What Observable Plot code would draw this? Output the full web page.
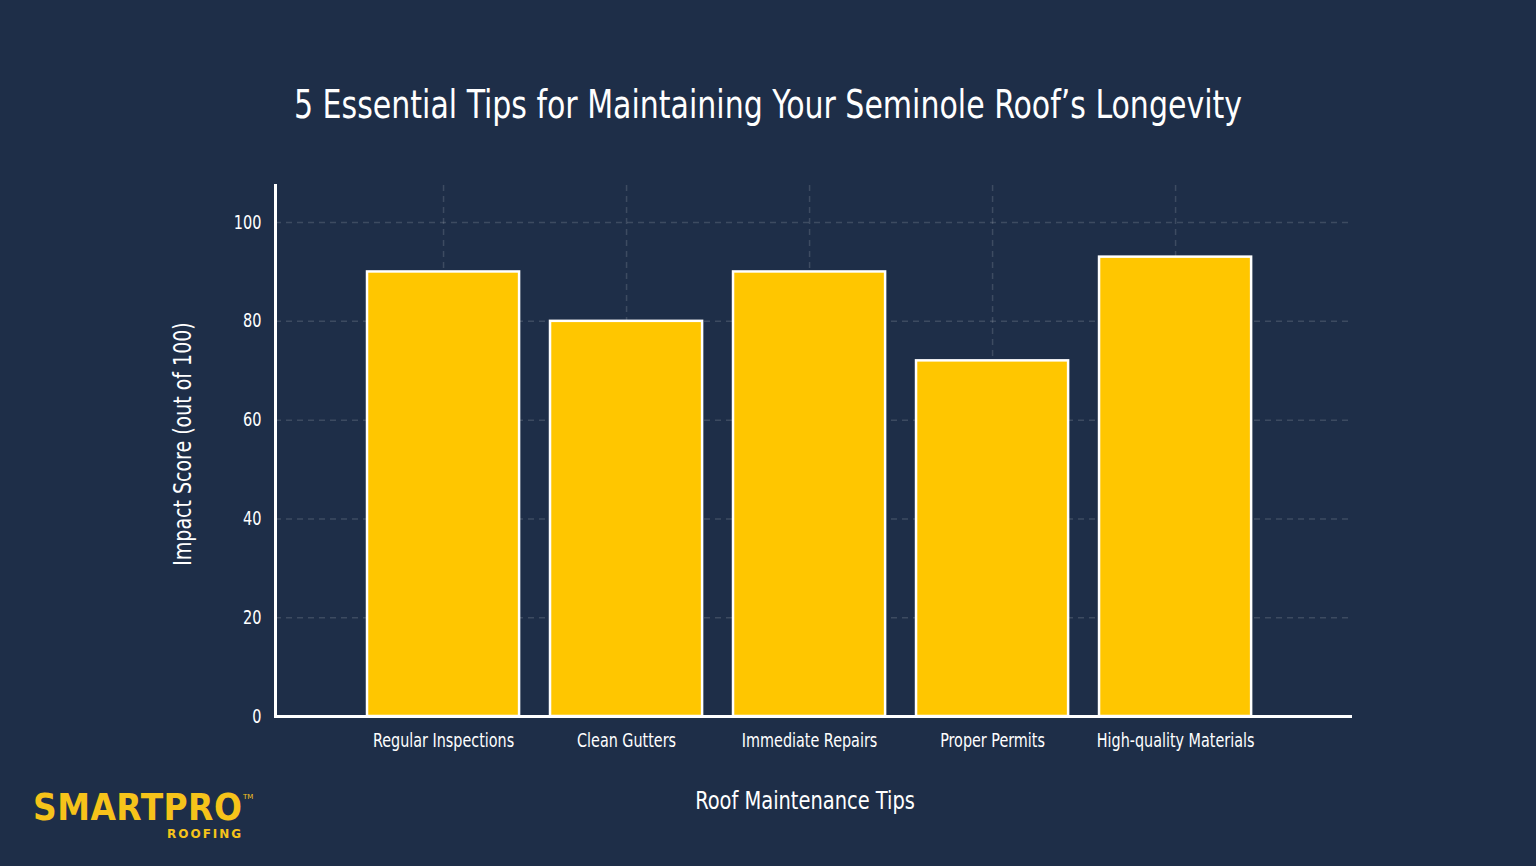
<!DOCTYPE html>
<html>
<head>
<meta charset="utf-8">
<script src="https://cdn.jsdelivr.net/npm/d3@7"></script>
<script src="https://cdn.jsdelivr.net/npm/@observablehq/plot@0.6"></script>
<style>
  html, body { margin: 0; padding: 0; background: #1e2e48; }
  #wrap { position: relative; width: 1536px; height: 866px; overflow: hidden; background: #1e2e48;
          font-family: "DejaVu Sans Condensed", "Liberation Sans Narrow", "Roboto", sans-serif; }
  #title { position: absolute; left: 0; width: 1536px; top: 82px; text-align: center; color: #ffffff;
           font-size: 39px; font-weight: 300; transform: scaleX(0.855); transform-origin: 768px 50%; }
  #chart { position: absolute; left: 0; top: 0; }
  #logo { position: absolute; left: 33px; top: 788px; color: #f6c31a; font-family: "DejaVu Sans", "Roboto", sans-serif; }
  #logo .main { display: inline-block; font-size: 37px; font-weight: bold; letter-spacing: 0.5px; line-height: 40px;
                transform: scaleX(0.89); transform-origin: 0 50%; }
  #logo .tm { position: absolute; left: 210px; top: 5px; font-size: 7px; }
  #logo .sub { position: absolute; left: 134px; top: 39px; font-size: 12px; font-weight: bold; letter-spacing: 2.0px; }
</style>
</head>
<body>
<div id="wrap">
  <div id="title">5 Essential Tips for Maintaining Your Seminole Roof’s Longevity</div>
  <div id="chart"></div>
  <div id="logo"><span class="main">SMARTPRO</span><span class="tm">TM</span><div class="sub">ROOFING</div></div>
</div>
<script>
const tips = ["Regular Inspections", "Clean Gutters", "Immediate Repairs", "Proper Permits", "High-quality Materials"];
const scores = [90, 80, 90, 72, 93];
const yTicks = [0, 20, 40, 60, 80, 100];
const xLabel = "Roof Maintenance Tips";
const yLabel = "Impact Score (out of 100)";

const data = tips.map((t, i) => ({tip: t, score: scores[i]}));
const fontFam = '"DejaVu Sans Condensed", "Liberation Sans Narrow", "Roboto", sans-serif';

const plot = Plot.plot({
  width: 1536,
  height: 866,
  marginLeft: 275,
  marginRight: 184,
  marginTop: 185,
  marginBottom: 150,
  style: { background: "transparent", color: "#ffffff", fontFamily: fontFam, fontSize: "18px", overflow: "visible" },
  x: { domain: tips, paddingInner: 0.169, paddingOuter: 0.527, align: 0.477, round: false, label: null },
  y: { domain: [0, 107.5], label: null },
  marks: [
    Plot.ruleY(yTicks, { stroke: "#ffffff", strokeOpacity: 0.14, strokeWidth: 1.5, strokeDasharray: "6,5" }),
    Plot.ruleX(tips, { stroke: "#ffffff", strokeOpacity: 0.14, strokeWidth: 1.5, strokeDasharray: "6,5" }),
    Plot.barY(data, { x: "tip", y: "score", fill: "#ffc600", stroke: "#ffffff", strokeWidth: 2.5 }),
    Plot.axisX({ tickSize: 0, tickPadding: 17, fontSize: 19, fill: "#ffffff", label: null, className: "xt" }),
    Plot.axisY({ ticks: yTicks, tickSize: 0, tickPadding: 14, fontSize: 19, fill: "#ffffff", label: null, className: "yt" }),
    Plot.ruleY([0], { stroke: "#ffffff", strokeWidth: 3 }),
    Plot.frame({ anchor: "left", stroke: "#ffffff", strokeWidth: 3 }),
    Plot.text([xLabel], { frameAnchor: "bottom", dx: -9, dy: 92, fontSize: 24, fill: "#ffffff", text: d => d, className: "xl" }),
    Plot.text([yLabel], { frameAnchor: "left", textAnchor: "middle", dx: -92, dy: -7, rotate: -90, fontSize: 24, fill: "#ffffff", text: d => d, className: "yl" })
  ]
});
document.getElementById("chart").appendChild(plot);

// condense the fallback font horizontally to match the narrow typeface
function squeeze(sel, k) {
  plot.querySelectorAll(sel).forEach(t => {
    const w = t.getComputedTextLength();
    t.setAttribute("textLength", (w * k).toFixed(1));
    t.setAttribute("lengthAdjust", "spacingAndGlyphs");
  });
}
squeeze(".xt text", 0.84);
squeeze(".yt text", 0.85);
squeeze(".xl text", 0.9);
squeeze(".yl text", 0.88);
</script>
</body>
</html>
